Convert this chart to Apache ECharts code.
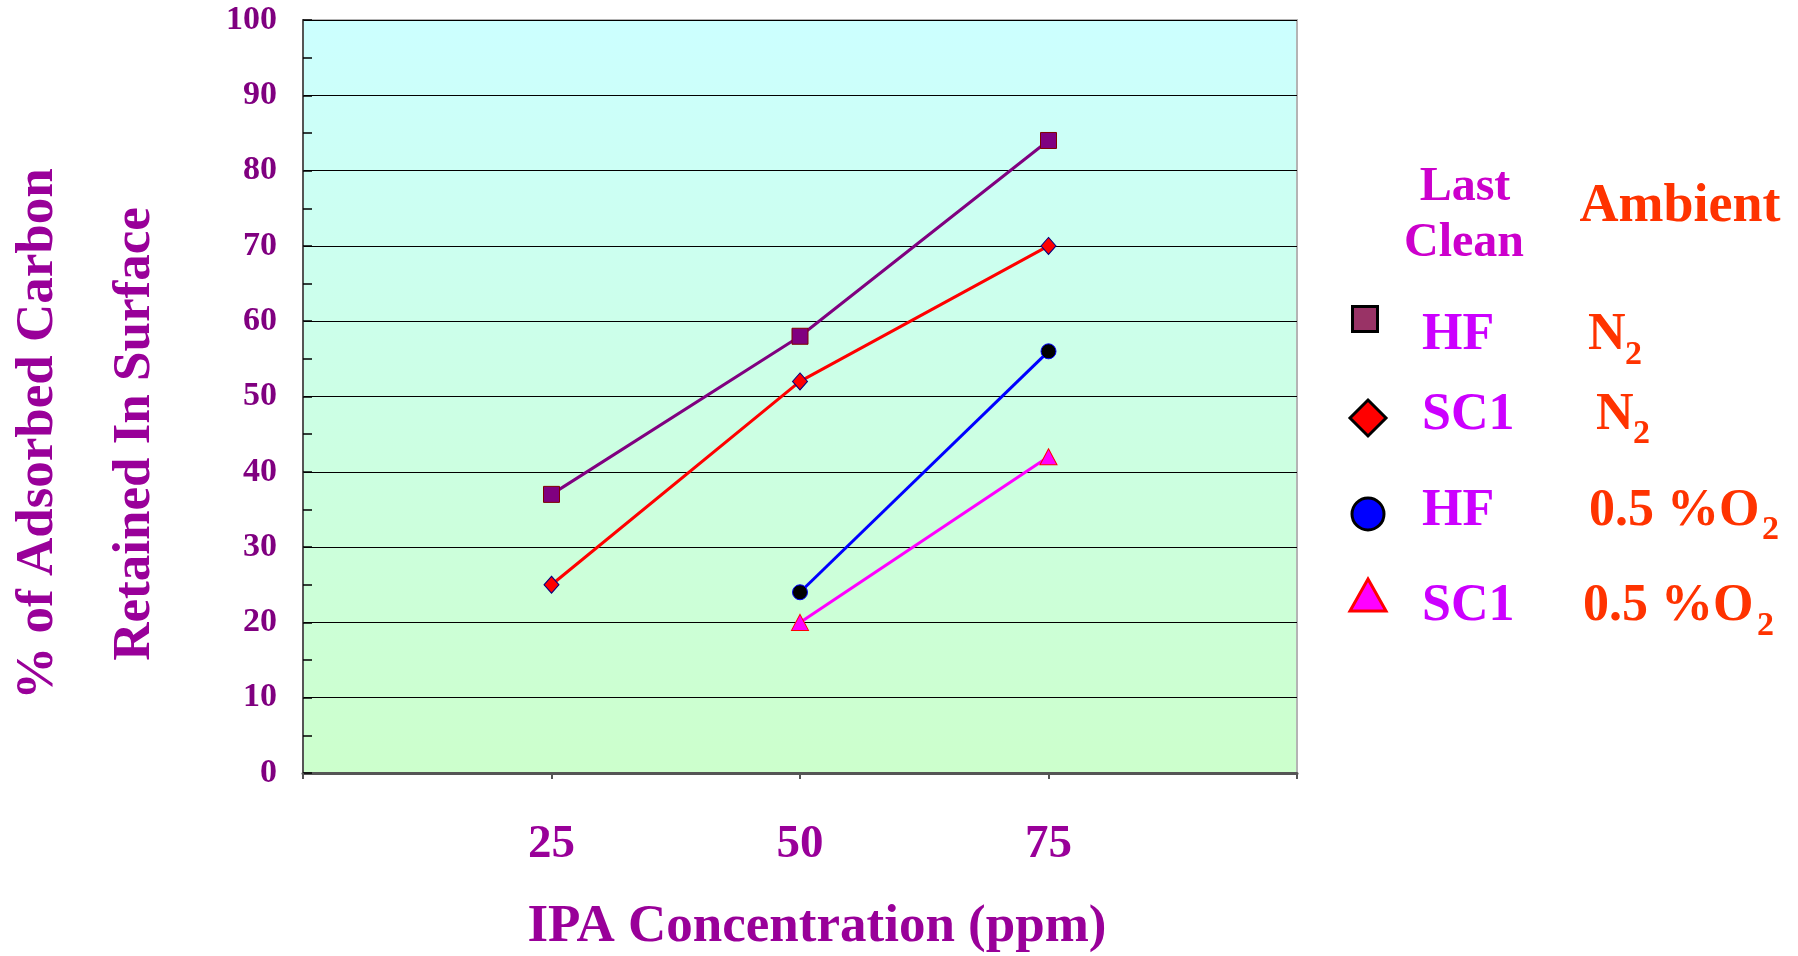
<!DOCTYPE html>
<html>
<head>
<meta charset="utf-8">
<script src="https://cdn.jsdelivr.net/npm/echarts@6/dist/echarts.min.js"></script>
<style>html,body{margin:0;padding:0;background:#fff}#chart{width:1798px;height:956px}</style>
</head>
<body>
<div id="chart"></div>
<script>
// ---- data ----
const ipaConc = [25, 50, 75];
const hfN2 = [37, 58, 84];
const sc1N2 = [25, 52, 70];
const hfO2 = [null, 24, 56];
const sc1O2 = [null, 20, 42];
const xTickLabels = [25, 50, 75];
const yTicks = [0, 10, 20, 30, 40, 50, 60, 70, 80, 90, 100];

const FONT = "'Liberation Serif','Times New Roman',serif";
function pairs(vals) {
  const out = [];
  vals.forEach((v, i) => { if (v !== null) out.push([ipaConc[i], v]); });
  return out;
}

const chart = echarts.init(document.getElementById('chart'), null, {renderer: 'canvas'});

function txt(text, x, y, size, color, align, extra) {
  return Object.assign({
    type: 'text', x: x, y: y, silent: true,
    style: {text: text, fontFamily: FONT, fontWeight: 'bold', fontSize: size, fill: color,
            align: align || 'left', verticalAlign: 'middle'}
  }, extra || {});
}

const legColor = '#CC00FF';
const ambColor = '#FF3300';

const option = {
  animation: false,
  backgroundColor: '#ffffff',
  grid: {
    left: 303, right: 501, top: 20, bottom: 183,
    show: true,
    borderColor: '#b4b4b4', borderWidth: 2,
    backgroundColor: new echarts.graphic.LinearGradient(0, 0, 0, 1, [
      {offset: 0, color: '#CCFFFF'}, {offset: 1, color: '#CCFFCC'}
    ])
  },
  xAxis: {
    type: 'value', min: 0, max: 100, interval: 25,
    axisLine: {show: true, onZero: false, lineStyle: {color: '#555555', width: 3}},
    axisTick: {show: true, inside: false, length: 6, lineStyle: {color: '#555555', width: 2}},
    splitLine: {show: false},
    axisLabel: {
      margin: 48, fontFamily: FONT, fontWeight: 'bold', fontSize: 47, lineHeight: 47, color: '#990099',
      formatter: v => (xTickLabels.indexOf(v) >= 0 ? String(v) : '')
    }
  },
  yAxis: {
    type: 'value', min: 0, max: 100, interval: 10,
    axisLine: {show: true, lineStyle: {color: '#555555', width: 2}},
    axisTick: {show: true, inside: true, length: 9, lineStyle: {color: '#000000', width: 1.5}},
    minorTick: {show: true, splitNumber: 2, length: 9, lineStyle: {color: '#000000', width: 1.5}},
    splitLine: {show: true, lineStyle: {color: '#000000', width: 1.2}},
    axisLabel: {
      margin: 26, fontFamily: FONT, fontWeight: 'bold', fontSize: 34, color: '#800080',
      formatter: v => (yTicks.indexOf(v) >= 0 ? String(v) : '')
    }
  },
  series: [
    {
      name: 'HF N2', type: 'line', data: pairs(hfN2),
      lineStyle: {color: '#800080', width: 3},
      symbol: 'rect', symbolSize: 16,
      itemStyle: {color: '#800080', borderColor: '#800000', borderWidth: 1}
    },
    {
      name: 'SC1 N2', type: 'line', data: pairs(sc1N2),
      lineStyle: {color: '#FF0000', width: 3},
      symbol: 'diamond', symbolSize: [15, 17],
      itemStyle: {color: '#FF0000', borderColor: '#000080', borderWidth: 1}
    },
    {
      name: 'HF 0.5%O2', type: 'line', data: pairs(hfO2),
      lineStyle: {color: '#0000FF', width: 3},
      symbol: 'circle', symbolSize: 15,
      itemStyle: {color: '#000000', borderColor: '#0000FF', borderWidth: 1}
    },
    {
      name: 'SC1 0.5%O2', type: 'line', data: pairs(sc1O2),
      lineStyle: {color: '#FF00FF', width: 3},
      symbol: 'triangle', symbolSize: [17, 16],
      itemStyle: {color: '#FF00FF', borderColor: '#FF0000', borderWidth: 1}
    }
  ],
  graphic: [
    // axis titles
    txt('% of Adsorbed Carbon', 38, 434, 53, '#990099', 'center', {rotation: Math.PI / 2}),
    txt('Retained In Surface', 135, 434, 53, '#990099', 'center', {rotation: Math.PI / 2}),
    txt('IPA Concentration (ppm)', 817, 927, 53, '#990099', 'center'),
    // legend header
    txt('Last', 1465, 188, 48, '#CC00CC', 'center'),
    txt('Clean', 1464, 244, 48, '#CC00CC', 'center'),
    txt('Ambient', 1680, 207, 54, ambColor, 'center'),
    // legend markers
    {type: 'rect', silent: true, shape: {x: 1352.5, y: 306.5, width: 25, height: 25},
     style: {fill: '#993366', stroke: '#000000', lineWidth: 3}},
    {type: 'polygon', silent: true, shape: {points: [[1368, 400], [1386, 418], [1368, 436], [1350, 418]]},
     style: {fill: '#FF0000', stroke: '#000000', lineWidth: 3}},
    {type: 'circle', silent: true, shape: {cx: 1368, cy: 514, r: 16},
     style: {fill: '#0000FF', stroke: '#000000', lineWidth: 3}},
    {type: 'polygon', silent: true, shape: {points: [[1368, 579], [1386, 611], [1350, 611]]},
     style: {fill: '#FF00FF', stroke: '#FF0000', lineWidth: 3}},
    // legend rows
    txt('HF', 1422, 336, 52, legColor),
    txt('N', 1588, 336, 52, ambColor),
    txt('2', 1625, 355, 34, ambColor),
    txt('SC1', 1422, 416, 52, legColor),
    txt('N', 1596, 416, 52, ambColor),
    txt('2', 1633, 434, 34, ambColor),
    txt('HF', 1422, 512, 52, legColor),
    txt('0.5 %O', 1589, 512, 52, ambColor),
    txt('2', 1762, 530, 34, ambColor),
    txt('SC1', 1422, 607, 52, legColor),
    txt('0.5 %O', 1583, 607, 52, ambColor),
    txt('2', 1757, 626, 34, ambColor)
  ]
};
chart.setOption(option);
</script>
</body>
</html>
